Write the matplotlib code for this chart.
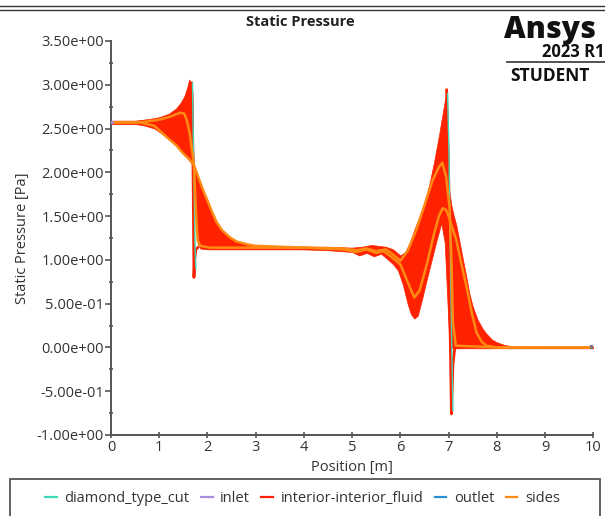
import numpy as np
import matplotlib.pyplot as plt
from matplotlib.lines import Line2D
from matplotlib.patches import Rectangle

# envelope of the interior-interior_fluid line family
env_x  = [0.0, 0.5, 0.8, 1.0, 1.2, 1.35, 1.45, 1.52, 1.58, 1.62, 1.66, 1.69, 1.70, 1.72,
          1.76, 1.80, 1.85, 1.90, 1.99, 2.10, 2.19, 2.30, 2.46, 2.60, 2.80, 3.0, 3.5, 4.0,
          4.5, 5.0, 5.2, 5.4, 5.55, 5.7, 5.85, 6.0, 6.1, 6.2, 6.3, 6.4, 6.5, 6.6, 6.7, 6.8,
          6.88, 6.96, 6.99, 7.02, 7.06, 7.10, 7.16, 7.23, 7.30, 7.37, 7.43, 7.50, 7.60,
          7.70, 7.78, 7.90, 8.0, 8.15, 8.3, 9.0, 10.0]
env_hi = [2.59, 2.59, 2.61, 2.63, 2.67, 2.73, 2.80, 2.87, 2.97, 3.06, 3.02, 2.90, 2.30, 2.08,
          2.02, 1.96, 1.88, 1.81, 1.69, 1.54, 1.43, 1.34, 1.26, 1.21, 1.18, 1.16, 1.15, 1.15,
          1.15, 1.14, 1.15, 1.17, 1.16, 1.15, 1.12, 1.05, 1.09, 1.20, 1.36, 1.50, 1.66, 1.86,
          2.12, 2.42, 2.68, 2.94, 2.50, 1.78, 1.62, 1.52, 1.40, 1.20, 1.00, 0.80, 0.62, 0.47,
          0.32, 0.22, 0.16, 0.09, 0.06, 0.03, 0.015, 0.01, 0.01]
lo_x   = [0.0, 0.5, 0.66, 0.9, 1.16, 1.35, 1.49, 1.6, 1.72, 1.74, 1.77, 1.8, 1.85, 2.0, 3.0,
          4.0, 4.5, 5.0, 5.15, 5.3, 5.45, 5.6, 5.75, 5.85, 5.95, 6.05, 6.15, 6.22, 6.29, 6.36,
          6.45, 6.55, 6.65, 6.75, 6.85, 6.92, 6.97, 7.02, 7.1, 8.0, 10.0]
lo_y   = [2.55, 2.55, 2.54, 2.50, 2.40, 2.31, 2.22, 2.15, 2.08, 1.70, 1.35, 1.18, 1.13, 1.12, 1.12,
          1.12, 1.11, 1.09, 1.05, 1.08, 1.04, 1.07, 1.00, 0.95, 0.88, 0.72, 0.50, 0.38, 0.33, 0.36,
          0.55, 0.78, 1.00, 1.22, 1.42, 1.20, 0.60, 0.0, -0.01, -0.01, -0.01]

# near-wall interior lines (pressure spikes at the shocks)
spk1_x = [1.67, 1.69, 1.705, 1.72, 1.735, 1.76, 1.80]
spk1_y = [3.02, 2.60, 1.80, 0.80, 1.00, 1.12, 1.14]
spk2_x = [6.96, 7.00, 7.03, 7.06, 7.09, 7.13, 7.20]
spk2_y = [2.94, 1.60, 0.30, -0.76, -0.20, 0.00, 0.00]

# sides
sideA_x = [0.0, 0.6, 1.0, 1.25, 1.43, 1.52, 1.57, 1.63, 1.68, 1.72, 1.75, 1.78, 1.80, 1.85,
           2.05, 3.0, 4.0, 4.8, 5.1, 5.3, 5.5, 5.7, 5.85, 6.0, 6.15, 6.33, 6.5, 6.67, 6.8,
           6.87, 6.95, 7.02, 7.06, 7.09, 7.15, 8.0, 10.0]
sideA_y = [2.57, 2.57, 2.60, 2.64, 2.68, 2.67, 2.60, 2.45, 2.25, 2.08, 1.70, 1.35, 1.22, 1.16,
           1.14, 1.14, 1.14, 1.13, 1.11, 1.13, 1.10, 1.12, 1.06, 0.99, 1.10, 1.34, 1.62, 1.91, 2.06,
           2.11, 1.95, 1.60, 1.00, 0.30, 0.02, 0.0, 0.0]
sideB_x = [0.0, 0.6, 0.9, 1.16, 1.35, 1.49, 1.62, 1.72, 1.80, 1.90, 1.99, 2.10, 2.19, 2.30,
           2.46, 2.60, 2.80, 3.0, 4.0, 4.8, 5.1, 5.3, 5.5, 5.65, 5.8, 6.0, 6.15, 6.29, 6.4,
           6.55, 6.7, 6.8, 6.88, 6.95, 7.0, 7.16, 7.26, 7.37, 7.48, 7.58, 7.68, 7.78, 8.0, 10.0]
sideB_y = [2.57, 2.57, 2.53, 2.40, 2.31, 2.22, 2.15, 2.08, 1.96, 1.81, 1.69, 1.54, 1.43, 1.34,
           1.26, 1.21, 1.18, 1.16, 1.14, 1.12, 1.09, 1.12, 1.08, 1.10, 1.04, 0.95, 0.75, 0.57,
           0.65, 0.95, 1.30, 1.50, 1.59, 1.57, 1.50, 1.23, 0.97, 0.70, 0.40, 0.17, 0.07, 0.02,
           0.0, 0.0]

# diamond_type_cut wall points
dia1_x = [1.69, 1.70, 1.72, 1.74, 1.76]
dia1_y = [3.02, 2.60, 2.00, 1.20, 0.90]
dia2_x = [6.98, 7.01, 7.04, 7.07, 7.09]
dia2_y = [2.90, 2.20, 1.00, -0.10, -0.72]

inlet_x, inlet_y = [0.0, 0.02], [2.57, 2.57]
outlet_x, outlet_y = [9.98, 10.0], [0.0, 0.0]

c_dia, c_inlet, c_int, c_out, c_side = '#3fd9b8', '#a58fdc', '#ff2200', '#2b8fd8', '#ff8a12'
txt = '#333333'

plt.rcParams['font.family'] = ['Open Sans', 'DejaVu Sans']

fig = plt.figure(figsize=(6.05, 5.16), dpi=100)
ax = fig.add_axes([0.1835, 0.157, 0.797, 0.7636])

# red band: union of both x grids so neither edge gets straight-lined
band_x = np.unique(np.concatenate([env_x, lo_x]))
band_hi = np.interp(band_x, env_x, env_hi)
band_lo = np.interp(band_x, lo_x, lo_y)
ax.fill_between(band_x, band_lo, band_hi, color=c_int, lw=0.5, edgecolor=c_int, zorder=2)
ax.plot(spk1_x, spk1_y, color=c_int, lw=2, zorder=3)
ax.plot(spk2_x, spk2_y, color=c_int, lw=2, zorder=3)
ax.plot(dia1_x, dia1_y, color=c_dia, lw=1, zorder=3.5)
ax.plot(dia2_x, dia2_y, color=c_dia, lw=1, zorder=3.5)
ax.plot(sideA_x, sideA_y, color=c_side, lw=1.8, zorder=4)
ax.plot(sideB_x, sideB_y, color=c_side, lw=1.8, zorder=4)
ax.plot(inlet_x, inlet_y, color=c_inlet, lw=2, zorder=5)
ax.plot(outlet_x, outlet_y, color='#777777', lw=3, zorder=5)

ax.set_xlim(0, 10)
ax.set_ylim(-1.0, 3.5)
ax.set_xticks(np.arange(0, 11, 1))
ax.set_yticks(np.arange(-1.0, 3.51, 0.5))
ax.set_yticks(np.arange(-0.75, 3.5, 0.5), minor=True)
ax.set_yticklabels(['%.2e' % v for v in np.arange(-1.0, 3.51, 0.5)])
for s in ['top', 'right']:
    ax.spines[s].set_visible(False)
for s in ['left', 'bottom']:
    ax.spines[s].set_color('#555555')
    ax.spines[s].set_linewidth(1.4)
ax.tick_params(axis='x', direction='inout', length=5, width=1.2, color='#555555',
               labelsize=10.5, labelcolor=txt, pad=1)
ax.tick_params(axis='y', which='major', direction='out', length=4, width=1.2, color='#555555',
               labelsize=10.5, labelcolor=txt, pad=1)
ax.tick_params(axis='y', which='minor', direction='inout', length=3, width=1.2, color='#555555')
ax.set_xlabel('Position [m]', fontsize=10.5, color=txt, labelpad=4)
ax.set_ylabel('Static Pressure [Pa]', fontsize=10.5, color=txt, labelpad=5)

fig.text(0.496, 0.957, 'Static Pressure', ha='center', va='center', fontsize=10.5,
         fontweight='bold', color='#222222')
fig.text(0.833, 0.926, 'Ansys', ha='left', va='baseline', fontsize=21.5, fontweight='heavy',
         color='#111111')
fig.text(0.999, 0.889, '2023 R1', ha='right', va='baseline', fontsize=12, fontweight='bold',
         color='#111111')
fig.add_artist(Line2D([0.838, 1.0], [0.880, 0.880], color='#444444', lw=1.3))
fig.text(0.843, 0.843, 'STUDENT', ha='left', va='baseline', fontsize=12.5, fontweight='bold',
         color='#111111')

# page border above the chart
fig.add_artist(Line2D([0, 1], [0.988, 0.988], color='#333333', lw=1))
fig.add_artist(Line2D([0, 1], [0.980, 0.980], color='#333333', lw=1))

# legend box along the bottom
fig.add_artist(Rectangle((0.017, -0.05), 0.975, 0.122, transform=fig.transFigure,
                         fill=False, edgecolor='#555555', lw=1.3))
handles = [Line2D([], [], color=c, lw=1.6) for c in [c_dia, c_inlet, c_int, c_out, c_side]]
labels = ['diamond_type_cut', 'inlet', 'interior-interior_fluid', 'outlet', 'sides']
fig.legend(handles, labels, loc='center', bbox_to_anchor=(0.5, 0.033), ncol=5, frameon=False,
           fontsize=10.5, handlelength=0.8, handletextpad=0.5, columnspacing=0.8,
           labelcolor=txt)

fig.savefig('out.png', dpi=100)
